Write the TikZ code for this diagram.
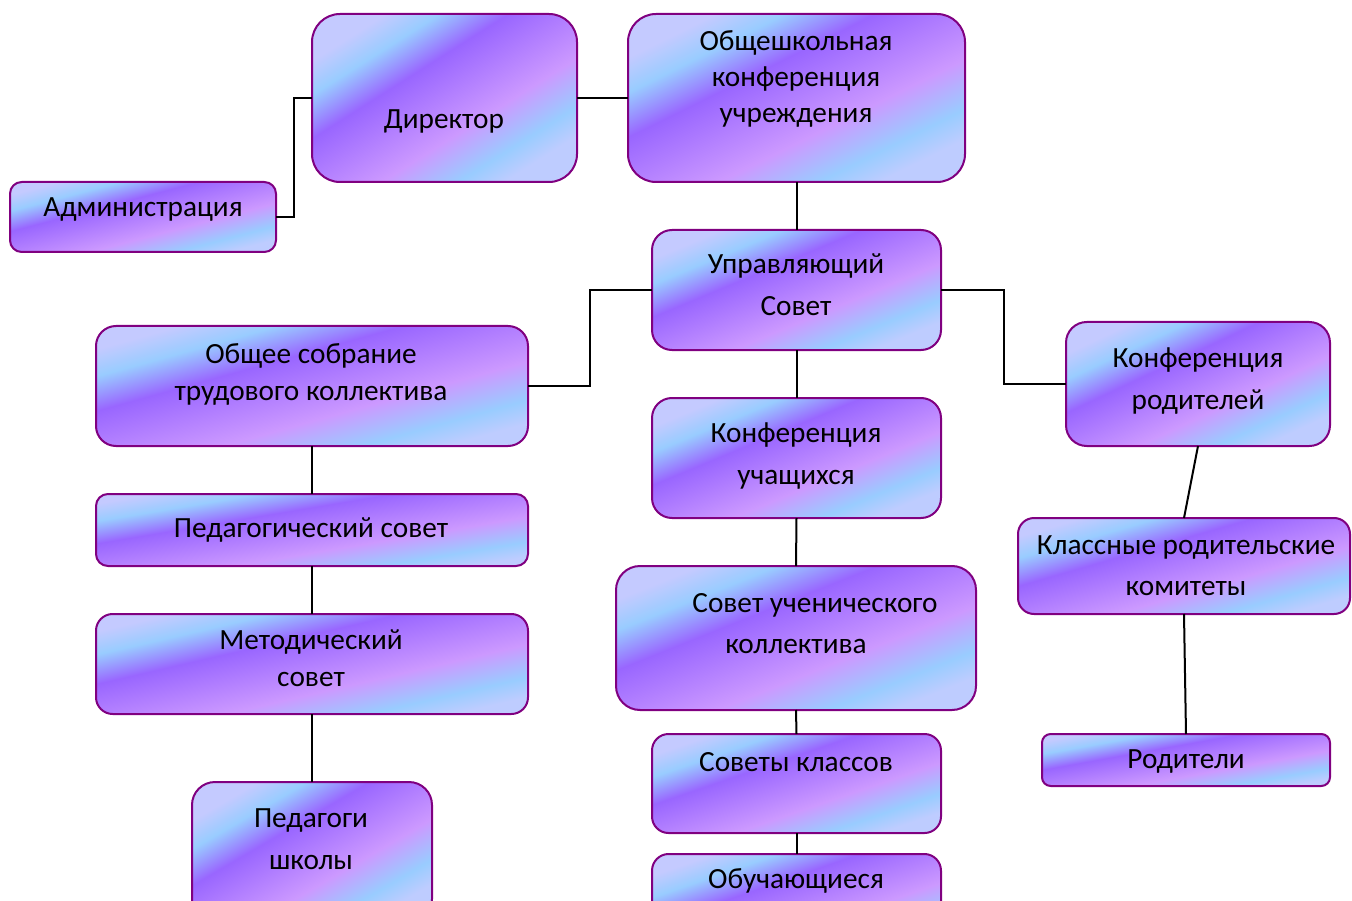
\documentclass[tikz,border=0pt]{standalone}
\usepackage{fontspec}
\setmainfont{Carlito}
\usetikzlibrary{calc}
\definecolor{gA}{RGB}{196,202,255}
\definecolor{gB}{RGB}{153,204,255}
\definecolor{gC}{RGB}{153,102,255}
\definecolor{gD}{RGB}{204,153,255}
\definecolor{gE}{RGB}{190,204,255}
\definecolor{boxborder}{RGB}{128,0,128}
\pgfdeclarehorizontalshading{wordgrad}{100bp}{color(0bp)=(gA); color(25bp)=(gA); color(32bp)=(gB); color(41bp)=(gC); color(59bp)=(gD); color(69bp)=(gB); color(75bp)=(gE); color(100bp)=(gE)}
\tikzset{
  box/.style={rectangle, draw=boxborder, line width=2pt, shade, shading=wordgrad, inner sep=0pt, outer sep=0pt},
  lbl/.style={align=center, text height=20pt, text depth=7pt, inner sep=0pt, text=black},
  fs36/.style={font=\fontsize{29.3}{36}\selectfont},
  fs37/.style={font=\fontsize{29.3}{37}\selectfont},
  fs41/.style={font=\fontsize{29.3}{41}\selectfont},
  fs42/.style={font=\fontsize{29.3}{42}\selectfont},
  conn/.style={line width=2pt, black}
}
\begin{document}
\begin{tikzpicture}[x=1pt,y=-1pt]
\useasboundingbox (0,0) rectangle (1352,901);
\clip (0,0) rectangle (1352,901);
% boxes
\node[box, minimum width=265pt, minimum height=168pt, rounded corners=28pt, shading angle=-57.6] (dir) at (444.5,98) {};
\node[box, minimum width=337pt, minimum height=168pt, rounded corners=28pt, shading angle=-63.5] (obsh) at (796.5,98) {};
\node[box, minimum width=266pt, minimum height=70pt, rounded corners=11.7pt, shading angle=-75.3] (adm) at (143,217) {};
\node[box, minimum width=289pt, minimum height=120pt, rounded corners=20pt, shading angle=-67.4] (upr) at (796.5,290) {};
\node[box, minimum width=432pt, minimum height=120pt, rounded corners=20pt, shading angle=-74.5] (sobr) at (312,386) {};
\node[box, minimum width=264pt, minimum height=124pt, rounded corners=20.7pt, shading angle=-64.8] (konfr) at (1198,384) {};
\node[box, minimum width=289pt, minimum height=120pt, rounded corners=20pt, shading angle=-67.4] (konfu) at (796.5,458) {};
\node[box, minimum width=432pt, minimum height=72pt, rounded corners=12pt, shading angle=-80.5] (ped) at (312,530) {};
\node[box, minimum width=332pt, minimum height=96pt, rounded corners=16pt, shading angle=-73.9] (klass) at (1184,566) {};
\node[box, minimum width=360pt, minimum height=144pt, rounded corners=24pt, shading angle=-68.2] (sovu) at (796,638) {};
\node[box, minimum width=432pt, minimum height=100pt, rounded corners=16.7pt, shading angle=-77.0] (met) at (312,664) {};
\node[box, minimum width=289pt, minimum height=99pt, rounded corners=16.5pt, shading angle=-71.1] (sovk) at (796.5,783.5) {};
\node[box, minimum width=288pt, minimum height=52pt, rounded corners=8.7pt, shading angle=-79.8] (rod) at (1186,760) {};
\node[box, minimum width=240pt, minimum height=140pt, rounded corners=23pt, shading angle=-59.7] (pedsh) at (312,852) {};
\node[box, minimum width=289pt, minimum height=100pt, rounded corners=16.7pt, shading angle=-70.9] (obuch) at (796.5,904) {};
% texts
\node[lbl, fs36] (tdir) at (444,122.5) {Директор};
\node[lbl, fs36] (tobsh) at (796,116.5) {Общешкольная\\конференция\\учреждения};
\node[lbl, fs36] (tadm) at (143,210.5) {Администрация};
\node[lbl, fs42] (tupr) at (796,309.5) {Управляющий\\Совет};
\node[lbl, fs37] (tsobr) at (311,393.5) {Общее собрание\\трудового коллектива};
\node[lbl, fs42] (tkonfr) at (1198,402.5) {Конференция\\родителей};
\node[lbl, fs42] (tkonfu) at (796,477.5) {Конференция\\учащихся};
\node[lbl, fs36] (tped) at (311,530.5) {Педагогический совет};
\node[lbl, fs41] (tklass) at (1186,588.5) {Классные родительские\\комитеты};
\node[lbl, fs41] (tsovu) at (796,646.5) {\hspace*{38pt}Совет ученического\\коллектива};
\node[lbl, fs37] (tmet) at (311,679.5) {Методический\\совет};
\node[lbl, fs36] (tsovk) at (796,764.5) {Советы классов};
\node[lbl, fs36] (trod) at (1186,761.5) {Родители};
\node[lbl, fs42] (tpedsh) at (311,862.5) {Педагоги\\школы};
\node[lbl, fs36] (tobuch) at (796,881.5) {Обучающиеся};
% connectors
\draw[conn] (adm.east) -- ++(18,0) |- (dir.west);
\draw[conn] (dir.east) -- (obsh.west);
\draw[conn] (obsh.south) -- (upr.north);
\draw[conn] (upr.west) -- ++(-62,0) |- (sobr.east);
\draw[conn] (upr.east) -- ++(63,0) |- (konfr.west);
\draw[conn] (upr.south) -- (konfu.north);
\draw[conn] (konfu.south) -- (sovu.north);
\draw[conn] (sovu.south) -- (sovk.north);
\draw[conn] (sovk.south) -- (obuch.north);
\draw[conn] (sobr.south) -- (ped.north);
\draw[conn] (ped.south) -- (met.north);
\draw[conn] (met.south) -- (pedsh.north);
\draw[conn] (konfr.south) -- (klass.north);
\draw[conn] (klass.south) -- (rod.north);
\end{tikzpicture}
\end{document}
